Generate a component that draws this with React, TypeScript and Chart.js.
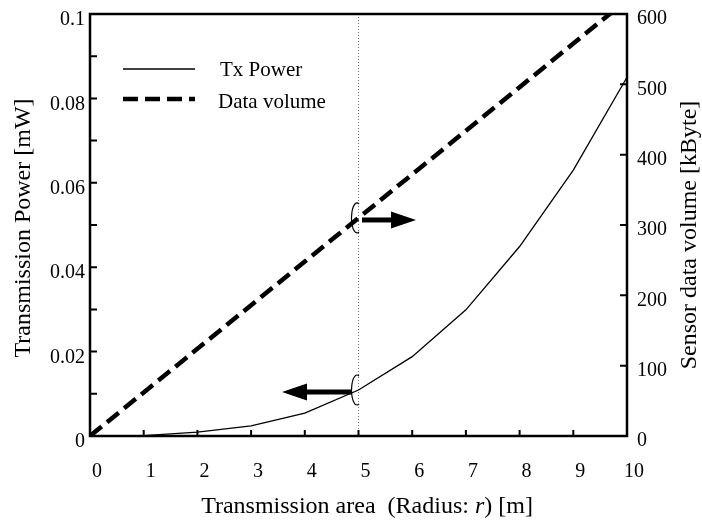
import React, { useEffect, useRef } from 'react';
import { Chart, registerables } from 'chart.js';

Chart.register(...registerables);

const radius = [0, 1, 2, 3, 4, 5, 6, 7, 8, 9, 10];
const txPower = [0, 0.0001, 0.0009, 0.0024, 0.0054, 0.0109, 0.0188, 0.0299, 0.0449, 0.063, 0.085];
const dataVolume = [0, 62, 124, 186, 248, 310, 372, 434, 496, 558, 620];

const legendLabels = ['Tx Power', 'Data volume'];
const xTitleParts = ['Transmission area  (Radius: ', 'r', ') [m]'];
const yLeftTitle = 'Transmission Power [mW]';
const yRightTitle = 'Sensor data volume [kByte]';
const markerRadius = 5;

const FONT = '"Liberation Serif", "Times New Roman", serif';

const decorPlugin = {
  id: 'decor',
  beforeDatasetsDraw(chart: any) {
    const { ctx, chartArea: a, scales } = chart;
    const x = scales.x;
    ctx.save();
    ctx.strokeStyle = '#777';
    ctx.lineWidth = 1;
    ctx.setLineDash([1, 2]);
    const px = x.getPixelForValue(markerRadius);
    ctx.beginPath();
    ctx.moveTo(px, a.top);
    ctx.lineTo(px, a.bottom);
    ctx.stroke();
    ctx.restore();
  },
  afterDatasetsDraw(chart: any) {
    const { ctx, chartArea: a, scales } = chart;
    const x = scales.x, y = scales.y, y1 = scales.y1;
    ctx.save();
    ctx.strokeStyle = '#000';
    ctx.fillStyle = '#000';
    ctx.setLineDash([]);

    // frame
    ctx.lineWidth = 2.5;
    ctx.strokeRect(a.left, a.top, a.right - a.left, a.bottom - a.top);

    // ticks
    ctx.lineWidth = 2;
    ctx.beginPath();
    for (let v = 1; v <= 9; v++) {
      const p = x.getPixelForValue(v);
      ctx.moveTo(p, a.bottom);
      ctx.lineTo(p, a.bottom - 6);
    }
    for (let i = 1; i <= 9; i++) {
      const p = y.getPixelForValue(i * 0.01);
      ctx.moveTo(a.left, p);
      ctx.lineTo(a.left + 7, p);
    }
    for (let v = 100; v <= 500; v += 100) {
      const p = y1.getPixelForValue(v);
      ctx.moveTo(a.right, p);
      ctx.lineTo(a.right - 7, p);
    }
    ctx.stroke();

    // ellipse markers and arrows
    const mx = x.getPixelForValue(markerRadius) - 1.5;
    const upY = y1.getPixelForValue(dataVolume[markerRadius]);
    const loY = y.getPixelForValue(txPower[markerRadius]);
    ctx.lineWidth = 1.2;
    [upY, loY].forEach((cy) => {
      ctx.beginPath();
      ctx.ellipse(mx, cy, 5.5, 15, 0, 0.38 * Math.PI, 1.62 * Math.PI);
      ctx.stroke();
    });

    const arrow = (x0: number, x1: number, yy: number, dir: number) => {
      ctx.lineWidth = 5;
      ctx.beginPath();
      ctx.moveTo(x0, yy);
      ctx.lineTo(x1 - dir * 22, yy);
      ctx.stroke();
      ctx.beginPath();
      ctx.moveTo(x1, yy);
      ctx.lineTo(x1 - dir * 25, yy - 8.5);
      ctx.lineTo(x1 - dir * 25, yy + 8.5);
      ctx.closePath();
      ctx.fill();
    };
    arrow(mx + 5, mx + 59, upY + 2, 1);
    arrow(mx - 5, mx - 75, loY + 2, -1);

    // legend
    const lx0 = 123, lx1 = 195, tx = 220;
    ctx.lineWidth = 1.4;
    ctx.beginPath();
    ctx.moveTo(lx0, 69);
    ctx.lineTo(lx1, 69);
    ctx.stroke();
    ctx.lineWidth = 4.5;
    ctx.setLineDash([15, 7]);
    ctx.beginPath();
    ctx.moveTo(lx0, 99);
    ctx.lineTo(lx1, 99);
    ctx.stroke();
    ctx.setLineDash([]);
    ctx.font = `21px ${FONT}`;
    ctx.textAlign = 'left';
    ctx.textBaseline = 'middle';
    ctx.fillText(legendLabels[0], tx, 70);
    ctx.fillText(legendLabels[1], tx - 2, 102);

    // titles
    const normal = `24px ${FONT}`;
    const italic = `italic 24px ${FONT}`;
    const fonts = [normal, italic, normal];
    let total = 0;
    const widths = xTitleParts.map((t, i) => {
      ctx.font = fonts[i];
      const w = ctx.measureText(t).width;
      total += w;
      return w;
    });
    let cx = 367 - total / 2;
    ctx.textAlign = 'left';
    ctx.textBaseline = 'middle';
    xTitleParts.forEach((t, i) => {
      ctx.font = fonts[i];
      ctx.fillText(t, cx, 507);
      cx += widths[i];
    });

    ctx.font = normal;
    ctx.textAlign = 'center';
    ctx.save();
    ctx.translate(24, 228);
    ctx.rotate(-Math.PI / 2);
    ctx.fillText(yLeftTitle, 0, 0);
    ctx.restore();
    ctx.save();
    ctx.translate(690, 235);
    ctx.rotate(-Math.PI / 2);
    ctx.fillText(yRightTitle, 0, 0);
    ctx.restore();

    ctx.restore();
  },
};

const noPad = (s: any) => {
  s.paddingTop = 0;
  s.paddingBottom = 0;
  s.paddingLeft = 0;
  s.paddingRight = 0;
};

export default function App() {
  const ref = useRef<HTMLCanvasElement | null>(null);
  useEffect(() => {
    if (!ref.current) return;
    const tickFont = { family: FONT, size: 20 };
    const chart = new Chart(ref.current, {
      type: 'line',
      data: {
        datasets: [
          {
            label: legendLabels[0],
            data: radius.map((r, i) => ({ x: r, y: txPower[i] })),
            borderColor: '#000',
            borderWidth: 1.3,
            pointRadius: 0,
            tension: 0,
            yAxisID: 'y',
          },
          {
            label: legendLabels[1],
            data: radius.map((r, i) => ({ x: r, y: dataVolume[i] })),
            borderColor: '#000',
            borderWidth: 4.5,
            borderDash: [15, 7],
            pointRadius: 0,
            tension: 0,
            yAxisID: 'y1',
          },
        ],
      },
      options: {
        responsive: true,
        maintainAspectRatio: false,
        animation: false,
        layout: { padding: { top: 14, left: 0, right: 0, bottom: 0 } },
        plugins: { legend: { display: false }, tooltip: { enabled: false } },
        scales: {
          x: {
            type: 'linear',
            min: 0,
            max: 10,
            grid: { display: false, drawTicks: false },
            border: { display: false },
            ticks: {
              stepSize: 1,
              color: '#000',
              font: tickFont,
              labelOffset: 7,
              padding: 24,
              maxRotation: 0,
              autoSkip: false,
            },
            afterFit: (s: any) => {
              s.height = 87;
              noPad(s);
            },
          },
          y: {
            position: 'left',
            min: 0,
            max: 0.1,
            grid: { display: false, drawTicks: false },
            border: { display: false },
            ticks: {
              stepSize: 0.02,
              color: '#000',
              font: tickFont,
              labelOffset: 6,
              padding: 5,
              callback: (v: any) => String(+Number(v).toFixed(2)),
            },
            afterFit: (s: any) => {
              s.width = 90;
              noPad(s);
            },
          },
          y1: {
            position: 'right',
            min: 0,
            max: 600,
            grid: { display: false, drawTicks: false },
            border: { display: false },
            ticks: {
              stepSize: 100,
              color: '#000',
              font: tickFont,
              labelOffset: 5,
              padding: 10,
            },
            afterFit: (s: any) => {
              s.width = 75;
              noPad(s);
            },
          },
        },
      },
      plugins: [decorPlugin],
    });
    return () => chart.destroy();
  }, []);
  return (
    <div style={{ position: 'fixed', left: 0, top: 0, width: 702, height: 523, background: '#fff' }}>
      <canvas ref={ref} />
    </div>
  );
}
